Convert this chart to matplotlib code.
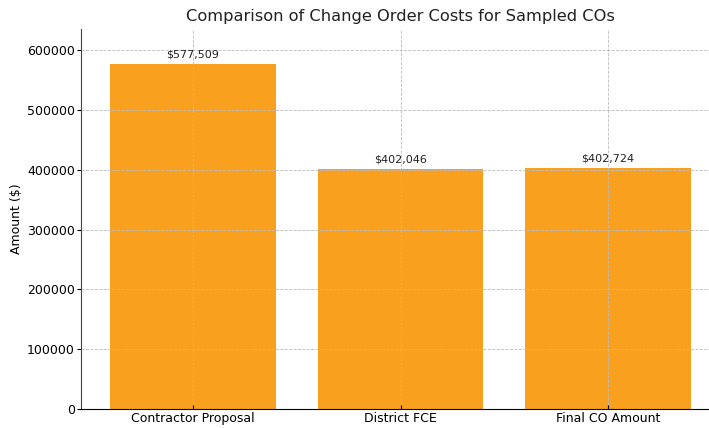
import matplotlib.pyplot as plt

categories = ['Contractor Proposal', 'District FCE', 'Final CO Amount']
amounts = [577509, 402046, 402724]

fig = plt.figure(figsize=(7.09, 4.28), dpi=100)
ax = fig.add_axes([81 / 709, 19 / 428, 639 / 709, 380 / 428])

bars = ax.bar(categories, amounts, width=0.8, color='#f9a11f', zorder=1)
ax.set_xlim(-0.54, 2.54)
ax.set_ylim(0, max(amounts) * 1.1)

for b, v in zip(bars, amounts):
    ax.annotate(f'${v:,}', (b.get_x() + b.get_width() / 2, v), xytext=(0, 3),
                textcoords='offset points', ha='center', va='bottom',
                fontsize=8, color='#222222')

ax.grid(True, linestyle='--', linewidth=0.6, color='#bbbbbb', zorder=2)
ax.set_axisbelow(False)
for s in ['top', 'right']:
    ax.spines[s].set_visible(False)
ax.spines['left'].set_color('#444444')
ax.tick_params(axis='x', direction='in', length=3, pad=2, labelsize=9)
ax.tick_params(axis='y', direction='out', length=3, pad=1.5, labelsize=9)

ax.set_ylabel('Amount ($)', fontsize=9, labelpad=3)
ax.set_title('Comparison of Change Order Costs for Sampled COs', fontsize=11.7, color='#222222', pad=6)

fig.savefig('out.png', dpi=100)
